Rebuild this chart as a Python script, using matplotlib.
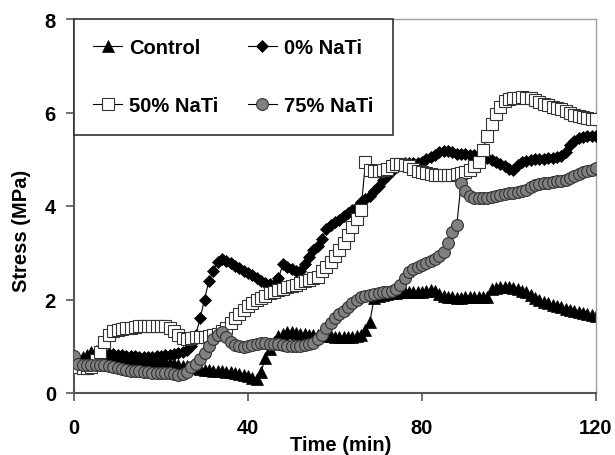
import numpy as np
import matplotlib
matplotlib.use("Agg")
import matplotlib.pyplot as plt

plt.rcParams['font.family'] = ['Liberation Sans', 'DejaVu Sans']
plt.rcParams['font.weight'] = 'bold'

time_min = np.arange(0, 121, 1)

control = [0.62, 0.70, 0.76, 0.82, 0.87, 0.90, 0.88, 0.85, 0.83, 0.80,
           0.78, 0.77, 0.76, 0.75, 0.74, 0.73, 0.72, 0.71, 0.70, 0.69,
           0.68, 0.67, 0.65, 0.63, 0.60, 0.58, 0.57, 0.55, 0.53, 0.52,
           0.50, 0.49, 0.48, 0.47, 0.46, 0.45, 0.44, 0.42, 0.40, 0.38,
           0.36, 0.33, 0.30, 0.45, 0.75, 0.95, 1.10, 1.22, 1.27, 1.30,
           1.30, 1.28, 1.27, 1.26, 1.25, 1.25, 1.24, 1.23, 1.22, 1.21,
           1.20, 1.20, 1.20, 1.20, 1.20, 1.21, 1.23, 1.35, 1.52, 2.03,
           2.08, 2.10, 2.12, 2.13, 2.14, 2.15, 2.15, 2.15, 2.15, 2.16,
           2.17, 2.18, 2.20, 2.18, 2.12, 2.08, 2.06, 2.05, 2.03, 2.03,
           2.05, 2.05, 2.06, 2.06, 2.05, 2.06, 2.22, 2.25, 2.27, 2.27,
           2.27, 2.25, 2.22, 2.18, 2.15, 2.10, 2.04, 1.99, 1.95, 1.92,
           1.89, 1.86, 1.83, 1.80, 1.78, 1.76, 1.74, 1.71, 1.69, 1.67,
           1.65]

nati_0 = [0.60, 0.65, 0.70, 0.75, 0.80, 0.83, 0.85, 0.85, 0.84, 0.83,
          0.82, 0.81, 0.80, 0.80, 0.79, 0.78, 0.78, 0.78, 0.78, 0.79,
          0.80, 0.81, 0.82, 0.84, 0.86, 0.88, 0.92, 1.00, 1.25, 1.60,
          2.00, 2.40, 2.60, 2.80, 2.87, 2.82, 2.78, 2.72, 2.68, 2.62,
          2.57, 2.52, 2.45, 2.40, 2.36, 2.33, 2.30, 2.45, 2.75, 2.70,
          2.65, 2.62, 2.62, 2.75, 2.90, 3.05, 3.15, 3.30, 3.50, 3.60,
          3.65, 3.70, 3.78, 3.85, 3.92, 3.98, 4.08, 4.15, 4.22, 4.32,
          4.43, 4.55, 4.65, 4.75, 4.83, 4.90, 4.92, 4.92, 4.92, 4.92,
          4.95, 5.00, 5.05, 5.10, 5.15, 5.17, 5.17, 5.15, 5.12, 5.12,
          5.12, 5.10, 5.10, 5.08, 5.05, 5.02, 4.98, 4.95, 4.90, 4.85,
          4.80, 4.78, 4.88, 4.95, 4.97, 4.98, 5.00, 5.00, 5.00, 5.02,
          5.03, 5.05, 5.07, 5.15, 5.30, 5.40, 5.45, 5.47, 5.50, 5.50,
          5.50]

nati_50 = [0.58, 0.55, 0.53, 0.53, 0.55, 0.70, 0.87, 1.10, 1.25, 1.32,
           1.35, 1.37, 1.38, 1.40, 1.42, 1.43, 1.44, 1.44, 1.44, 1.44,
           1.44, 1.43, 1.40, 1.32, 1.25, 1.18, 1.15, 1.18, 1.20, 1.20,
           1.20, 1.21, 1.23, 1.27, 1.32, 1.40, 1.50, 1.60, 1.70, 1.78,
           1.86, 1.93, 1.98, 2.03, 2.08, 2.13, 2.17, 2.20, 2.23, 2.26,
           2.29, 2.32, 2.36, 2.39, 2.42, 2.45, 2.48, 2.62, 2.70, 2.80,
           2.92, 3.05, 3.20, 3.38, 3.55, 3.72, 3.92, 4.95, 4.78, 4.74,
           4.74, 4.76, 4.80, 4.85, 4.90, 4.90, 4.88, 4.85, 4.80, 4.75,
           4.72, 4.70, 4.68, 4.67, 4.66, 4.66, 4.66, 4.67, 4.68, 4.70,
           4.72, 4.77, 4.85, 4.95, 5.20, 5.50, 5.75, 5.97, 6.12, 6.24,
           6.29, 6.30, 6.32, 6.33, 6.32, 6.30, 6.26, 6.22, 6.18, 6.15,
           6.12, 6.10, 6.07, 6.03, 6.00, 5.95, 5.92, 5.90, 5.88, 5.87,
           5.86]

nati_75 = [0.80, 0.62, 0.60, 0.60, 0.60, 0.60, 0.60, 0.59, 0.58, 0.56,
           0.54, 0.52, 0.50, 0.48, 0.47, 0.46, 0.45, 0.44, 0.43, 0.42,
           0.42, 0.43, 0.42, 0.40, 0.38, 0.40, 0.45, 0.55, 0.62, 0.72,
           0.85, 1.00, 1.15, 1.25, 1.30, 1.20, 1.10, 1.03, 1.00, 0.99,
           1.00, 1.03, 1.05, 1.06, 1.06, 1.05, 1.05, 1.04, 1.02, 1.00,
           1.00, 1.00, 1.00, 1.02, 1.04, 1.08, 1.15, 1.25, 1.38, 1.50,
           1.60, 1.68, 1.76, 1.84, 1.92, 2.00, 2.05, 2.08, 2.10, 2.12,
           2.14, 2.15, 2.17, 2.19, 2.22, 2.30, 2.45, 2.58, 2.65, 2.70,
           2.74, 2.78, 2.82, 2.86, 2.92, 3.02, 3.20, 3.45, 3.60, 4.50,
           4.32, 4.22, 4.18, 4.17, 4.17, 4.18, 4.20, 4.21, 4.23, 4.25,
           4.27, 4.28, 4.30, 4.32, 4.35, 4.40, 4.44, 4.47, 4.49, 4.50,
           4.52, 4.53, 4.54, 4.56, 4.60, 4.64, 4.68, 4.72, 4.75, 4.78,
           4.81]

labels = ["Control", "0% NaTi", "50% NaTi", "75% NaTi"]
x_ticks = [0, 40, 80, 120]
y_ticks = [0, 2, 4, 6, 8]

fig = plt.figure(figsize=(6.15, 4.56), dpi=100)
ax = fig.add_axes([74/615, 62/456, 522/615, 374/456])

h_c, = ax.plot(time_min, control, color='black', lw=0.8, marker='^', ms=8,
               mfc='black', mec='black', mew=0.5, label=labels[0], zorder=2)
h_0, = ax.plot(time_min, nati_0, color='black', lw=0.8, marker='D', ms=6.5,
               mfc='black', mec='black', mew=0.5, label=labels[1], zorder=3)
h_50, = ax.plot(time_min, nati_50, color='black', lw=0.8, marker='s', ms=8,
                mfc='white', mec='#333333', mew=0.8, label=labels[2], zorder=4)
h_75, = ax.plot(time_min, nati_75, color='black', lw=0.8, marker='o', ms=8.5,
                mfc='#808080', mec='#333333', mew=0.8, label=labels[3], zorder=5)

ax.set_xlim(0, 120)
ax.set_ylim(0, 8)
ax.set_xticks(x_ticks)
ax.set_yticks(y_ticks)
ax.tick_params(axis='both', direction='out', length=6, width=1.2,
               color='#555555', labelsize=14.5)
ax.tick_params(axis='x', pad=12)
ax.tick_params(axis='y', pad=7)
for lab in ax.get_xticklabels() + ax.get_yticklabels():
    lab.set_fontweight('bold')

for s in ['left', 'bottom']:
    ax.spines[s].set_color('#555555')
    ax.spines[s].set_linewidth(1.5)
for s in ['top', 'right']:
    ax.spines[s].set_color('#a0a0a0')
    ax.spines[s].set_linewidth(1.0)

ax.set_xlabel("Time (min)", fontsize=14.5, fontweight='bold', va='top')
ax.set_ylabel("Stress (MPa)", fontsize=14.5, fontweight='bold')
ax.xaxis.set_label_coords(0.51, -0.112)
ax.yaxis.set_label_coords(-0.082, 0.436)

leg = ax.legend([h_c, h_50, h_0, h_75],
                [labels[0], labels[2], labels[1], labels[3]],
                loc='upper left', bbox_to_anchor=(0, 1), borderaxespad=0,
                ncol=2, frameon=True, fancybox=False,
                numpoints=1, handlelength=1.45, handletextpad=0.35,
                columnspacing=1.45, borderpad=0.95, labelspacing=1.95,
                prop={'weight': 'bold', 'size': 14.5})
leg.get_frame().set_edgecolor('#333333')
leg.get_frame().set_linewidth(1.2)
leg.get_frame().set_alpha(1)
leg.set_zorder(10)

fig.savefig("out.png", dpi=100)
